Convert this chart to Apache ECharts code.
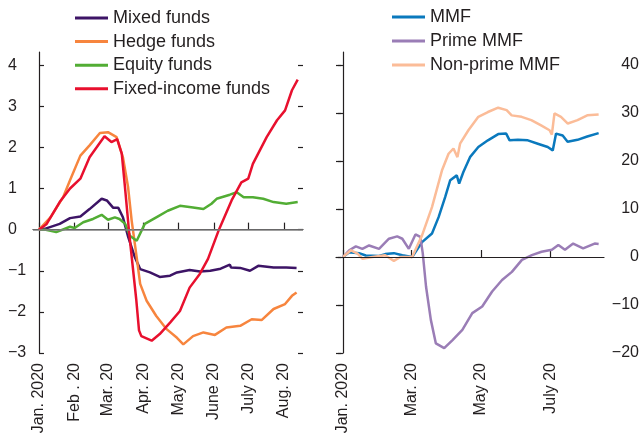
<!DOCTYPE html>
<html>
<head>
<meta charset="utf-8">
<script src="https://cdn.jsdelivr.net/npm/echarts@6/dist/echarts.min.js"></script>
<style>
html, body { margin: 0; padding: 0; background: #fff; }
#chart { width: 642px; height: 444px; }
</style>
</head>
<body>
<div id="chart"></div>
<script>
// x values are days since 1 Jan 2020
var leftTickDays = [0, 31, 60, 91, 121, 152, 182, 213];
var leftTickLabels = ['Jan. 2020', 'Feb . 20', 'Mar. 20', 'Apr. 20', 'May 20', 'June 20', 'July 20', 'Aug. 20'];
var rightTickDays = [0, 60, 121, 182];
var rightTickLabels = ['Jan. 2020', 'Mar. 20', 'May 20', 'July 20'];
var leftYTicks = [-3, -2, -1, 0, 1, 2, 3, 4];
var rightYTicks = [-20, -10, 0, 10, 20, 30, 40];

var mixedFunds = [[0,0],[5,0.02],[18,0.14],[27,0.28],[36,0.32],[44,0.5],[54.5,0.75],[59,0.71],[64.6,0.53],[69,0.53],[73,0.3],[77.7,-0.19],[83.5,-0.68],[88,-0.96],[96.5,-1.04],[105,-1.15],[114,-1.12],[120,-1.04],[131,-0.98],[140,-1.02],[149,-1.0],[158,-0.95],[166,-0.85],[167,-0.92],[175,-0.93],[183.5,-1.0],[190.7,-0.88],[204,-0.92],[215,-0.92],[224,-0.93]];
var hedgeFunds = [[0,0],[10,0.3],[21,0.79],[27,1.2],[36,1.8],[44,2.05],[53,2.35],[60,2.37],[67.5,2.25],[73,1.76],[77.5,1.03],[80.6,0.22],[85,-0.68],[88,-1.32],[93.6,-1.73],[102,-2.1],[111,-2.42],[120,-2.63],[125.5,-2.79],[134,-2.59],[143,-2.5],[153,-2.56],[163,-2.38],[175,-2.34],[185,-2.18],[193.6,-2.2],[204,-1.93],[214,-1.81],[220,-1.61],[224,-1.53]];
var equityFunds = [[0,0],[5,0],[15,-0.06],[27,0.07],[31,0.04],[38.5,0.18],[47,0.26],[54.5,0.36],[60,0.24],[66,0.3],[70,0.26],[75,0.14],[79,-0.15],[85,-0.27],[92,0.14],[102,0.3],[112,0.46],[122.6,0.58],[134,0.54],[143,0.5],[150,0.63],[154.5,0.75],[166,0.85],[172,0.91],[178,0.79],[186,0.79],[195,0.75],[204,0.67],[215,0.63],[225,0.67]];
var fixedIncomeFunds = [[0,0],[6.7,0.14],[18,0.67],[27,1.0],[36,1.24],[44,1.76],[57,2.27],[63,2.13],[68,2.2],[72,1.85],[74.8,1.03],[78.5,-0.1],[84.6,-1.7],[87,-2.45],[89,-2.59],[98,-2.7],[105,-2.54],[114,-2.26],[122.6,-1.98],[131,-1.41],[140,-1.07],[147,-0.71],[156.5,0],[167.5,0.71],[176,1.15],[182,1.24],[186,1.6],[198,2.25],[207,2.66],[214,2.9],[220,3.39],[225,3.65]];

var mmf = [[0,0],[5.5,1],[14,0.8],[20,0.3],[31.6,0.2],[37,0.6],[44.6,0.8],[52,0.35],[60.6,0],[69.3,3.1],[78,4.9],[83.8,8.3],[89.6,12.5],[94,16],[99.7,17],[101.8,15.3],[105.5,17.7],[111.3,20.8],[118.6,22.9],[127,24.3],[136,25.6],[143,25.7],[146,24.3],[153.3,24.4],[162,24.3],[170.7,23.6],[179.4,22.9],[183.8,22.2],[186.7,25.7],[192.5,25.3],[196.8,24],[205.5,24.4],[214,25.1],[224,25.8]];
var primeMmf = [[0,0],[5.5,1.4],[11.3,2.2],[17,1.7],[22.9,2.4],[31.6,1.7],[40.3,3.8],[47.5,4.3],[52,3.8],[57.7,1.7],[63.5,4.7],[67.8,4.2],[69.9,0.8],[72.8,-6.2],[77,-13.1],[81.4,-18],[88.7,-19],[96,-17.3],[104.6,-15.2],[113.3,-11.7],[122,-10.3],[130.7,-7.2],[139.4,-4.8],[148,-3.1],[156.8,-0.6],[165.5,0.4],[174,1.1],[183,1.5],[188.7,2.5],[194.5,1.5],[201.7,2.8],[210.4,1.8],[220.5,2.8],[224,2.7]];
var nonPrimeMmf = [[0,0],[7,1.4],[12.8,0.7],[17,-0.35],[25.8,0],[37,0.35],[44.6,-0.8],[50.4,0],[60.6,0],[69.3,4.5],[78,10.4],[86.7,18],[92.5,21.5],[96.8,22.6],[100.3,20.8],[102.6,23.6],[109.9,26.4],[118.6,29.2],[127,30.2],[136,31.1],[143.4,30.6],[147.8,29.5],[156.5,29.2],[165,28.5],[173.6,27.4],[181,26.4],[183,25.5],[185.3,29.9],[191,29.2],[197,27.8],[205.5,28.5],[214,29.5],[224,29.7]];

var FONT = '"Liberation Sans", Arial, sans-serif';
var TXT = '#231f20';

function xAxisFor(gridIndex, min, max, days, labels) {
  return {
    type: 'value', gridIndex: gridIndex, min: min, max: max,
    splitLine: { show: false },
    axisLine: { lineStyle: { color: TXT, width: 1.2 } },
    axisTick: { inside: true, length: 7, customValues: days, lineStyle: { color: TXT, width: 1.2 } },
    axisLabel: {
      customValues: days, rotate: 90, margin: 10, color: TXT, fontSize: 16, fontFamily: FONT,
      formatter: function (v) { return labels[days.indexOf(v)]; }
    }
  };
}

function yAxisFor(gridIndex, pos, min, max, ticks, withLabels, labelOpts) {
  return {
    type: 'value', gridIndex: gridIndex, position: pos, min: min, max: max,
    splitLine: { show: false },
    axisLine: { show: withLabels, lineStyle: { color: TXT, width: 1.2 } },
    axisTick: { inside: true, length: 5, customValues: ticks, lineStyle: { color: TXT, width: 1.2 } },
    axisLabel: withLabels ? Object.assign({
      customValues: ticks, color: TXT, fontSize: 16, fontFamily: FONT,
      formatter: function (v) { return v < 0 ? '\u2212' + (-v) : String(v); }
    }, labelOpts) : { show: false }
  };
}

function line(name, data, color, xi, yi, zero) {
  var s = {
    name: name, type: 'line', data: data, xAxisIndex: xi, yAxisIndex: yi,
    showSymbol: false, symbol: 'none', smooth: false,
    lineStyle: { color: color, width: 2.5 }, itemStyle: { color: color },
    animation: false
  };
  if (zero) {
    s.markLine = {
      silent: true, symbol: 'none', label: { show: false },
      lineStyle: { color: zero.color, width: zero.width, type: 'solid' },
      data: [{ yAxis: 0 }]
    };
  }
  return s;
}

var legendText = { color: TXT, fontSize: 18, fontFamily: FONT, lineHeight: 20 };

var chart = echarts.init(document.getElementById('chart'));
chart.setOption({
  animation: false,
  grid: [
    { left: 33, top: 52, width: 270, height: 301 },
    { left: 336, top: 52, width: 270, height: 301 }
  ],
  legend: [
    { orient: 'vertical', left: 70, top: 3, itemWidth: 33, itemHeight: 3, itemGap: 3.6, icon: 'rect',
      textStyle: legendText, data: ['Mixed funds', 'Hedge funds', 'Equity funds', 'Fixed-income funds'] },
    { orient: 'vertical', left: 387, top: 2, itemWidth: 33, itemHeight: 3, itemGap: 4, icon: 'rect',
      textStyle: legendText, data: ['MMF', 'Prime MMF', 'Non-prime MMF'] }
  ],
  xAxis: [
    xAxisFor(0, -5.2, 229.6, leftTickDays, leftTickLabels),
    xAxisFor(1, -6.1, 228.7, rightTickDays, rightTickLabels)
  ],
  yAxis: [
    yAxisFor(0, 'left', -3, 4.32, leftYTicks, true, { align: 'left', margin: 25 }),
    yAxisFor(0, 'right', -3, 4.32, leftYTicks, false),
    yAxisFor(1, 'right', -20, 42.7, rightYTicks, true, { align: 'right', margin: 35 }),
    yAxisFor(1, 'left', -20, 42.7, rightYTicks, false)
  ],
  series: [
    line('Mixed funds', mixedFunds, '#3d1466', 0, 0, { color: '#808080', width: 1.5 }),
    line('Hedge funds', hedgeFunds, '#f7853e', 0, 0),
    line('Equity funds', equityFunds, '#52ad34', 0, 0),
    line('Fixed-income funds', fixedIncomeFunds, '#e8102e', 0, 0),
    line('MMF', mmf, '#0a79bd', 1, 2, { color: '#231f20', width: 1.2 }),
    line('Prime MMF', primeMmf, '#9a7db6', 1, 2),
    line('Non-prime MMF', nonPrimeMmf, '#fbbc98', 1, 2)
  ]
});
</script>
</body>
</html>
